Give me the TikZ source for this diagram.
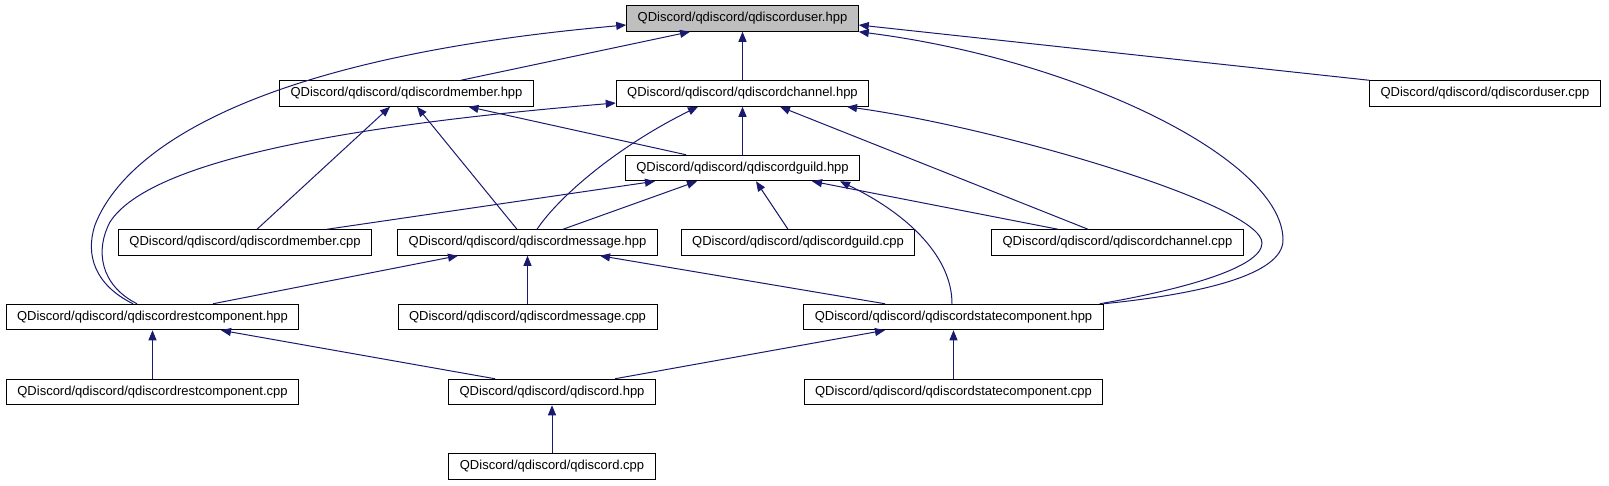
\documentclass[tikz,border=0pt]{standalone}
\usepackage{fontspec}
\setmainfont{Liberation Sans}
\usetikzlibrary{arrows.meta}
\definecolor{edgeblue}{RGB}{25,25,112}
\definecolor{rootgray}{RGB}{191,191,191}
\tikzset{
    filebox/.style={draw=black, line width=1pt, fill=white, minimum height=25.5pt,
        inner xsep=11pt, inner ysep=0pt, font=\fontsize{13}{15}\selectfont},
    rootbox/.style={filebox, fill=rootgray},
    incl/.style={draw=edgeblue, line width=1pt, -{Triangle[length=10pt,width=8pt]}}
}

\begin{document}
\begin{tikzpicture}[x=1pt, y=-1pt]
    \useasboundingbox (0,0) rectangle (1609,485);
    % Cabecalhos e fontes
    \node[rootbox] (userh) at (742.5,18.5) {QDiscord/qdiscord/qdiscorduser.hpp};
    \node[filebox] (memberh) at (406.5,93.5) {QDiscord/qdiscord/qdiscordmember.hpp};
    \node[filebox] (channelh) at (742.5,93.5) {QDiscord/qdiscord/qdiscordchannel.hpp};
    \node[filebox] (userc) at (1485,93.5) {QDiscord/qdiscord/qdiscorduser.cpp};
    \node[filebox] (guildh) at (742.5,168) {QDiscord/qdiscord/qdiscordguild.hpp};
    \node[filebox] (memberc) at (245,242.5) {QDiscord/qdiscord/qdiscordmember.cpp};
    \node[filebox] (messageh) at (527.5,242.5) {QDiscord/qdiscord/qdiscordmessage.hpp};
    \node[filebox] (guildc) at (798,242.5) {QDiscord/qdiscord/qdiscordguild.cpp};
    \node[filebox] (channelc) at (1117.5,242.5) {QDiscord/qdiscord/qdiscordchannel.cpp};
    \node[filebox] (resth) at (152.5,317) {QDiscord/qdiscord/qdiscordrestcomponent.hpp};
    \node[filebox] (messagec) at (527.5,317) {QDiscord/qdiscord/qdiscordmessage.cpp};
    \node[filebox] (stateh) at (953.5,317) {QDiscord/qdiscord/qdiscordstatecomponent.hpp};
    \node[filebox] (restc) at (152.5,392) {QDiscord/qdiscord/qdiscordrestcomponent.cpp};
    \node[filebox] (qdh) at (552,392) {QDiscord/qdiscord/qdiscord.hpp};
    \node[filebox] (statec) at (953.5,392) {QDiscord/qdiscord/qdiscordstatecomponent.cpp};
    \node[filebox] (qdc) at (552,466.5) {QDiscord/qdiscord/qdiscord.cpp};
    % Inclusoes de qdiscorduser.hpp
    \draw[incl] ([xshift=54.5pt]memberh.north) -- ([xshift=-52.5pt]userh.south);
    \draw[incl] (channelh) -- (userh);
    \draw[incl] (userc.north west) -- ([yshift=-6.5pt]userh.east);
    \draw[incl] ([xshift=-19.5pt]resth.north) .. controls (95,285) and (85,255) .. (95,225)
        .. controls (120,160) and (230,60) .. ([yshift=-6.5pt]userh.west);
    \draw[incl] (stateh.north east) .. controls (1200,294) and (1283,275) .. (1283,240)
        .. controls (1283,160) and (1080,60) .. (userh.south east);
    % Inclusoes de qdiscordchannel.hpp
    \draw[incl] (guildh) -- (channelh);
    \draw[incl] ([xshift=9.5pt]messageh.north) .. controls (560,195) and (620,145) .. ([xshift=-44.5pt]channelh.south);
    \draw[incl] ([xshift=-29.5pt]channelc.north) -- ([xshift=37.5pt]channelh.south);
    \draw[incl] ([xshift=-15.5pt]resth.north) .. controls (100,285) and (95,250) .. (110,222)
        .. controls (150,160) and (350,125) .. ([yshift=-9.5pt]channelh.west);
    \draw[incl] ([xshift=-4pt]stateh.north east) .. controls (1180,290) and (1262,268) .. (1262,243)
        .. controls (1262,205) and (1000,128) .. ([xshift=104.5pt]channelh.south);
    % Inclusoes de qdiscordmember.hpp
    \draw[incl] ([xshift=12pt]memberc.north) -- ([xshift=-16.5pt]memberh.south);
    \draw[incl] ([xshift=-10.5pt]messageh.north) -- ([xshift=10.5pt]memberh.south);
    \draw[incl] ([xshift=-56.5pt]guildh.north) -- ([xshift=62pt]memberh.south);
    % Inclusoes de qdiscordguild.hpp
    \draw[incl] ([xshift=82pt]memberc.north) -- ([xshift=-87.5pt]guildh.south);
    \draw[incl] ([xshift=35.5pt]messageh.north) -- ([xshift=-45.5pt]guildh.south);
    \draw[incl] ([xshift=-10pt]guildc.north) -- ([xshift=13.5pt]guildh.south);
    \draw[incl] ([xshift=-59.5pt]channelc.north) -- ([xshift=69.5pt]guildh.south);
    \draw[incl] ([xshift=-1.5pt]stateh.north) .. controls (952,258) and (910,215) .. ([xshift=97.5pt]guildh.south);
    % Inclusoes de qdiscordmessage.hpp
    \draw[incl] (messagec) -- (messageh);
    \draw[incl] ([xshift=60.5pt]resth.north) -- ([xshift=-69.5pt]messageh.south);
    \draw[incl] ([xshift=-68.5pt]stateh.north) -- ([xshift=72.5pt]messageh.south);
    % Componentes
    \draw[incl] (restc) -- (resth);
    \draw[incl] ([xshift=-57pt]qdh.north) -- ([xshift=68.5pt]resth.south);
    \draw[incl] ([xshift=63pt]qdh.north) -- ([xshift=-68.5pt]stateh.south);
    \draw[incl] (statec) -- (stateh);
    \draw[incl] (qdc) -- (qdh);
\end{tikzpicture}
\end{document}
